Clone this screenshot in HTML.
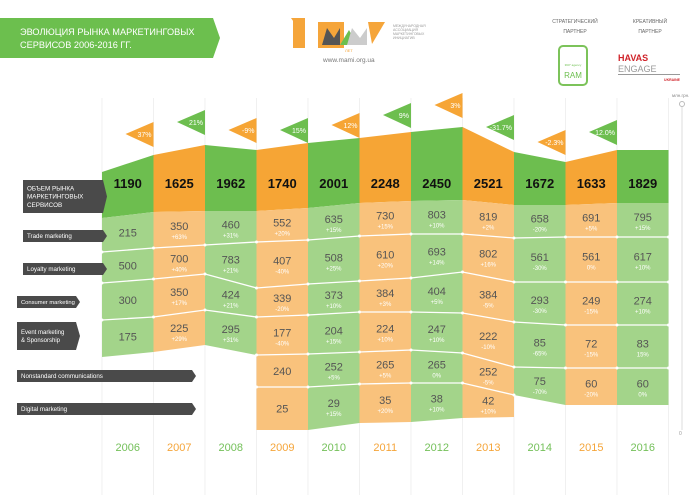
<!DOCTYPE html>
<html><head><meta charset="utf-8">
<style>
body{margin:0;background:#fff;}
svg{display:block;font-family:"Liberation Sans","DejaVu Sans",sans-serif;}
</style></head>
<body>
<svg id="s" width="700" height="495" viewBox="0 0 700 495" xmlns="http://www.w3.org/2000/svg">
<polygon points="0,18 213,18 220,38 213,58 0,58" fill="#6cbf4e"/>
<text x="20" y="35" font-size="9.2" fill="#fff">ЭВОЛЮЦИЯ РЫНКА МАРКЕТИНГОВЫХ</text>
<text x="20" y="48" font-size="9.2" fill="#fff">СЕРВИСОВ 2006-2016 ГГ.</text>
<g>
<rect x="293" y="18" width="12" height="30" fill="#f5a53a"/>
<polygon points="291,18 298,18 298,28" fill="#f5a53a"/>
<rect x="318" y="22" width="26" height="26" fill="#f5a53a"/>
<polygon points="322,45 327,28 334,38 340,28 340,45" fill="#555"/>
<polygon points="340,45 349,30 357,45" fill="#6cbf4e"/>
<polygon points="347,45 352,28 360,38 367,28 367,45" fill="#ccc"/>
<polygon points="368,22 385,22 372,44" fill="#f5a53a"/>
<text x="393" y="27" font-size="3.5" fill="#999">МЕЖДУНАРОДНАЯ</text>
<text x="393" y="31" font-size="3.5" fill="#999">АССОЦИАЦИЯ</text>
<text x="393" y="35" font-size="3.5" fill="#999">МАРКЕТИНГОВЫХ</text>
<text x="393" y="39" font-size="3.5" fill="#999">ИНИЦИАТИВ</text>
<text x="345" y="52" font-size="4" fill="#f5a53a">ЛЕТ</text>
<text x="323" y="62" font-size="6.5" fill="#777">www.mami.org.ua</text>
</g>
<text x="575" y="23" font-size="5" fill="#666" text-anchor="middle">СТРАТЕГИЧЕСКИЙ</text>
<text x="575" y="33" font-size="5" fill="#666" text-anchor="middle">ПАРТНЕР</text>
<text x="650" y="23" font-size="5" fill="#666" text-anchor="middle">КРЕАТИВНЫЙ</text>
<text x="650" y="33" font-size="5" fill="#666" text-anchor="middle">ПАРТНЕР</text>
<rect x="559" y="46" width="28" height="39" rx="4" fill="#fff" stroke="#7cc35a" stroke-width="2"/>
<text x="573" y="78" font-size="8" fill="#6cbf4e" text-anchor="middle">RAM</text>
<text x="573" y="66" font-size="3" fill="#6cbf4e" text-anchor="middle">360° agency</text>
<text x="618" y="61" font-size="9" font-weight="bold" fill="#d0232a">HAVAS</text>
<text x="618" y="72" font-size="9" fill="#999">ENGAGE</text>
<rect x="618" y="74" width="62" height="1" fill="#999"/>
<text x="680" y="81" font-size="3.5" font-weight="bold" fill="#d0232a" text-anchor="end">UKRAINE</text>
<g id="g"></g>
<text x="672" y="97" font-size="4.5" fill="#888">млн.грн.</text>
<line x1="682" y1="105" x2="682" y2="430" stroke="#ddd" stroke-width="1"/>
<circle cx="682" cy="104" r="2.5" fill="#fff" stroke="#bbb"/>
<text x="679" y="435" font-size="5" fill="#999">0</text>
</svg>
<script>
var g=document.getElementById('g'),h='';
var X=[];for(var i=0;i<12;i++)X.push(102+51.5*i);
var GM='#6dbe4f',OM='#f6a535',GL='#a3d48a',OL='#f9c27c';
function poly(a,b,i,c){return '<polygon points="'+X[i]+','+a[i]+' '+X[i+1]+','+a[i+1]+' '+X[i+1]+','+b[i+1]+' '+X[i]+','+b[i]+'" fill="'+c+'"/>';}
for(var i=0;i<12;i++)h+='<line x1="'+X[i]+'" y1="98" x2="'+X[i]+'" y2="495" stroke="#ececec" stroke-width="0.8"/>';
var T=[172,155,145,150,143,138,132,127,152,162,150,150];
var M=[218,212,211,211,208,203,201,200,205,205,203,203];
var B1=[252,248,245,242,240,236,234,234,238,237,237,237];
var B2=[283,279,274,288,284,281,278,272,282,282,282,282];
var B3=[320,317,310,317,315,312,312,313,322,325,325,325];
var B4=[357,352,345,355,354,352,350,353,367,368,368,368];
var B5=[0,0,0,387,387,384,383,383,395,405,405,405];
var B6=[0,0,0,430,430,423,422,418,417,0,0,0];
var main=[1190,1625,1962,1740,2001,2248,2450,2521,1672,1633,1829];
var rows=[
[[215,''],[350,'+63%'],[460,'+31%'],[552,'+20%'],[635,'+15%'],[730,'+15%'],[803,'+10%'],[819,'+2%'],[658,'-20%'],[691,'+5%'],[795,'+15%']],
[[500,''],[700,'+40%'],[783,'+21%'],[407,'-40%'],[508,'+25%'],[610,'+20%'],[693,'+14%'],[802,'+16%'],[561,'-30%'],[561,'0%'],[617,'+10%']],
[[300,''],[350,'+17%'],[424,'+21%'],[339,'-20%'],[373,'+10%'],[384,'+3%'],[404,'+5%'],[384,'-5%'],[293,'-30%'],[249,'-15%'],[274,'+10%']],
[[175,''],[225,'+29%'],[295,'+31%'],[177,'-40%'],[204,'+15%'],[224,'+10%'],[247,'+10%'],[222,'-10%'],[85,'-65%'],[72,'-15%'],[83,'15%']]];
var ns={3:[240,''],4:[252,'+5%'],5:[265,'+5%'],6:[265,'0%'],7:[252,'-5%'],8:[75,'-70%'],9:[60,'-20%'],10:[60,'0%']};
var dg={3:[25,''],4:[29,'+15%'],5:[35,'+20%'],6:[38,'+10%'],7:[42,'+10%']};
function cell(i,a,b,v){var cx=X[i]+25.75,mid=(a[i]+a[i+1]+b[i]+b[i+1])/4;
 if(v[1]===''){h+='<text x="'+cx+'" y="'+(mid+4)+'" font-size="11" fill="#555" text-anchor="middle">'+v[0]+'</text>';}
 else{h+='<text x="'+cx+'" y="'+(mid+1)+'" font-size="11" fill="#555" text-anchor="middle">'+v[0]+'</text><text x="'+cx+'" y="'+(mid+10)+'" font-size="6" fill="#fff" text-anchor="middle">'+v[1]+'</text>';}}
var bands=[[M,B1],[B1,B2],[B2,B3],[B3,B4]];
for(var i=0;i<11;i++){var ev=i%2==0;
 h+=poly(T,M,i,ev?GM:OM);
 h+='<text x="'+(X[i]+25.75)+'" y="188" font-size="13" font-weight="bold" fill="#111" text-anchor="middle">'+main[i]+'</text>';
 for(var r=0;r<4;r++){h+=poly(bands[r][0],bands[r][1],i,ev?GL:OL);}
 if(ns[i]){h+=poly(B4,B5,i,ev?GL:OL);}
 if(dg[i]){h+=poly(B5,B6,i,ev?GL:OL);}
}
function sep(a,from,to){var p='';for(var i=from;i<=to;i++)p+=X[i]+','+a[i]+' ';h+='<polyline points="'+p+'" fill="none" stroke="#fff" stroke-width="1.3"/>';for(var i=from;i<=to;i++)h+='<circle cx="'+X[i]+'" cy="'+a[i]+'" r="1.5" fill="#fff"/>';}
sep(B1,0,11);sep(B2,0,11);sep(B3,0,11);sep(B4,3,11);sep(B5,3,8);
for(var i=0;i<11;i++){for(var r=0;r<4;r++)cell(i,bands[r][0],bands[r][1],rows[r][i]);
 if(ns[i])cell(i,B4,B5,ns[i]); if(dg[i])cell(i,B5,B6,dg[i]);}
var fl=[['37%',122,0],['21%',110,1],['-9%',118,0],['15%',118,1],['12%',113,0],['9%',103,1],['3%',93,0],['-31.7%',115,1],['-2.3%',130,0],['12.0%',120,1]];
for(var k=0;k<10;k++){var r=X[k+1],t=fl[k][1],c=fl[k][2]?GM:OM;
 h+='<polygon points="'+(r-28)+','+(t+12)+' '+r+','+t+' '+r+','+(t+25)+'" fill="'+c+'"/>';
 h+='<text x="'+(r-2)+'" y="'+(t+15)+'" font-size="7" fill="#fff" text-anchor="end">'+fl[k][0]+'</text>';}
for(var i=0;i<11;i++)h+='<text x="'+(X[i]+25.75)+'" y="451" font-size="11" fill="'+(i%2==0?'#74c05a':'#f5a53a')+'" text-anchor="middle">'+(2006+i)+'</text>';
function lab(x,y,w,hh,lines,fs){h+='<polygon points="'+x+','+y+' '+(x+w-4)+','+y+' '+(x+w)+','+(y+hh/2)+' '+(x+w-4)+','+(y+hh)+' '+x+','+(y+hh)+'" fill="#4a4a4a"/>';
 for(var j=0;j<lines.length;j++)h+='<text x="'+(x+4)+'" y="'+(y+(hh-lines.length*(fs+2))/2+fs+j*(fs+2))+'" font-size="'+fs+'" fill="#fff">'+lines[j]+'</text>';}
lab(23,180,84,33,['ОБЪЕМ РЫНКА','МАРКЕТИНГОВЫХ','СЕРВИСОВ'],6.3);
lab(23,230,84,12,['Trade marketing'],6.2);
lab(23,263,84,12,['Loyalty marketing'],6.2);
lab(17,296,63,12,['Consumer marketing'],5.8);
lab(17,322,63,28,['Event marketing','&amp; Sponsorship'],6);
lab(17,370,179,12,['Nonstandard communications'],6.2);
lab(17,403,179,12,['Digital marketing'],6.2);
g.innerHTML=h;
</script>
</body></html>
